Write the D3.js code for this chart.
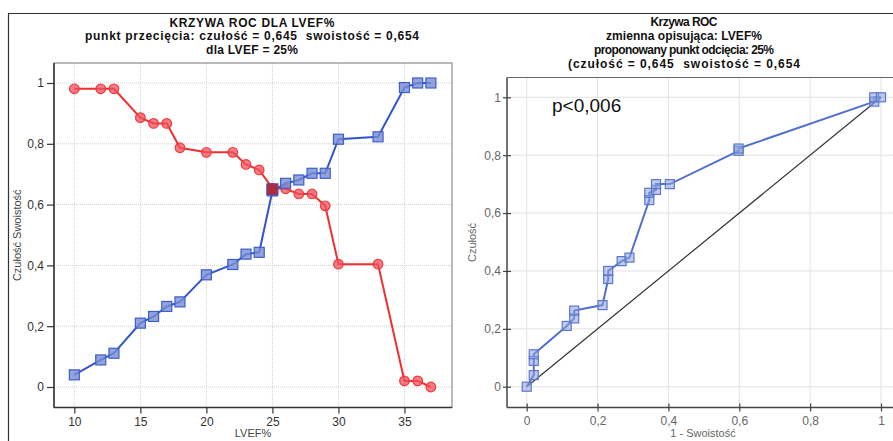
<html>
<head>
<meta charset="utf-8">
<title>Krzywa ROC</title>
<style>
  body { margin: 0; background: #fff; }
  text { font-family: "Liberation Sans", Arial, sans-serif; }
</style>
</head>
<body>
<script src="https://cdn.jsdelivr.net/npm/d3@7"></script>
<script>
    // dane - lewy wykres (czułość i swoistość dla progów LVEF)
    var lvef = [10, 12, 13, 15, 16, 17, 18, 20, 22, 23, 24, 25, 26, 27, 28, 29, 30, 33, 35, 36, 37];
    var czulosc = [0.04, 0.089, 0.111, 0.21, 0.232, 0.265, 0.28, 0.369, 0.403, 0.437, 0.443, 0.645,
                   0.67, 0.681, 0.703, 0.703, 0.815, 0.823, 0.985, 1, 1];
    var swoistosc = [0.981, 0.981, 0.981, 0.886, 0.867, 0.867, 0.787, 0.772, 0.772, 0.732, 0.714, 0.654,
                     0.652, 0.635, 0.635, 0.596, 0.404, 0.404, 0.02, 0.02, 0];
    // dane - prawy wykres (krzywa ROC)
    var jedenMinusSwoistosc = [0, 0.02, 0.02, 0.02, 0.113, 0.134, 0.134, 0.214, 0.23, 0.23, 0.268, 0.29,
                               0.346, 0.346, 0.365, 0.365, 0.404, 0.598, 0.598, 0.981, 0.981, 1];
    var czuloscRoc = [0, 0.04, 0.089, 0.112, 0.21, 0.236, 0.263, 0.282, 0.372, 0.40, 0.434, 0.446,
                      0.645, 0.67, 0.68, 0.70, 0.70, 0.815, 0.823, 0.985, 1, 1];
    var lewyXTicks = [10, 15, 20, 25, 30, 35];
    var yTicks = [0, 0.2, 0.4, 0.6, 0.8, 1];
    var prawyXTicks = [0, 0.2, 0.4, 0.6, 0.8, 1];
    var tytulLewy = ["KRZYWA ROC DLA LVEF%",
                     "punkt przecięcia: czułość = 0,645  swoistość = 0,654",
                     "dla LVEF = 25%"];
    var tytulPrawy = ["Krzywa ROC",
                      "zmienna opisująca: LVEF%",
                      "proponowany punkt odcięcia: 25%",
                      "(czułość = 0,645  swoistość = 0,654"];
    // szerokości linii tytułu (px), jak na oryginale
    var szerLewy = [165, 334, 92];
    var szerPrawy = [67, 156, 180, 232];

    var width = 893, height = 441;
    var svg = d3.select('body').append('svg')
            .attr('width', width).attr('height', height);
    svg.append('rect').attr('width', width).attr('height', height).attr('fill', '#fff');

    var przecinek = function (d) { return String(d).replace('.', ','); };

    // ramka
    svg.append('line').attr('x1', 8).attr('x2', width).attr('y1', 13.5).attr('y2', 13.5)
            .attr('stroke', '#333').attr('stroke-width', 1.2);
    svg.append('line').attr('x1', 8.5).attr('x2', 8.5).attr('y1', 13).attr('y2', height)
            .attr('stroke', '#333').attr('stroke-width', 1.2);

    // ---------- lewy wykres ----------
    var L = {left: 54, top: 63, right: 452, bottom: 407.5};
    var xL = d3.scaleLinear().domain([8.46, 38.6]).range([L.left, L.right]);
    var yL = d3.scaleLinear().domain([0, 1]).range([387, 83]);

    var gL = svg.append('g');
    gL.selectAll('.gx').data(lewyXTicks).enter().append('line')
            .attr('x1', function (d) { return xL(d); }).attr('x2', function (d) { return xL(d); })
            .attr('y1', L.top).attr('y2', L.bottom)
            .attr('stroke', '#d0d0d0').attr('stroke-dasharray', '1,1');
    gL.selectAll('.gy').data(yTicks).enter().append('line')
            .attr('x1', L.left).attr('x2', L.right)
            .attr('y1', function (d) { return yL(d); }).attr('y2', function (d) { return yL(d); })
            .attr('stroke', '#d0d0d0').attr('stroke-dasharray', '1,1');
    gL.append('rect').attr('x', L.left).attr('y', L.top)
            .attr('width', L.right - L.left).attr('height', L.bottom - L.top)
            .attr('fill', 'none').attr('stroke', '#777').attr('stroke-width', 1);

    var axL = gL.append('g').attr('transform', 'translate(' + L.left + ',0)')
            .call(d3.axisLeft(yL).tickValues(yTicks).tickFormat(przecinek).tickSize(7).tickPadding(3));
    axL.select('.domain').attr('d', 'M0,' + L.top + 'V' + L.bottom).attr('stroke', '#333').attr('stroke-width', 1.5);
    var axLx = gL.append('g').attr('transform', 'translate(0,' + L.bottom + ')')
            .call(d3.axisBottom(xL).tickValues(lewyXTicks).tickSize(6).tickPadding(4));
    axLx.select('.domain').attr('d', 'M' + L.left + ',0H' + L.right).attr('stroke', '#333').attr('stroke-width', 1.5);
    gL.selectAll('.tick text').attr('font-size', 12).attr('fill', '#333')
            .attr('font-family', '"Liberation Sans", Arial, sans-serif');
    gL.selectAll('.tick line').attr('stroke', '#333').attr('stroke-width', 1.2);

    gL.append('text').attr('transform', 'translate(21,' + ((L.top + L.bottom) / 2) + ') rotate(-90)')
            .attr('text-anchor', 'middle').attr('font-size', 11).attr('fill', '#444')
            .text('Czułość Swoistość');
    gL.append('text').attr('x', (L.left + L.right) / 2).attr('y', 437)
            .attr('text-anchor', 'middle').attr('font-size', 11).attr('fill', '#444')
            .text('LVEF%');

    gL.selectAll('.tl').data(tytulLewy).enter().append('text')
            .attr('x', 252).attr('y', function (d, i) { return 26.5 + i * 13.5; })
            .attr('text-anchor', 'middle').attr('font-size', 12).attr('font-weight', 'bold')
            .attr('textLength', function (d, i) { return szerLewy[i]; })
            .style('white-space', 'pre')
            .attr('fill', '#111').text(function (d) { return d; });

    var liniaCz = d3.line().x(function (d, i) { return xL(lvef[i]); }).y(function (d) { return yL(d); });

    // swoistość (czerwona)
    gL.append('path').attr('d', liniaCz(swoistosc)).attr('fill', 'none')
            .attr('stroke', '#f03030').attr('stroke-width', 2);
    gL.selectAll('.sw').data(swoistosc).enter().append('circle')
            .attr('cx', function (d, i) { return xL(lvef[i]); }).attr('cy', function (d) { return yL(d); })
            .attr('r', 4.8).attr('fill', 'rgba(240,80,95,0.75)').attr('stroke', '#f03a3a').attr('stroke-width', 1.2);

    // czułość (niebieska)
    gL.append('path').attr('d', liniaCz(czulosc)).attr('fill', 'none')
            .attr('stroke', '#3355cc').attr('stroke-width', 2);
    gL.selectAll('.cz').data(czulosc).enter().append('rect')
            .attr('x', function (d, i) { return xL(lvef[i]) - 5; }).attr('y', function (d) { return yL(d) - 5; })
            .attr('width', 10).attr('height', 10)
            .attr('fill', 'rgba(120,140,210,0.8)').attr('stroke', '#3d5fcc').attr('stroke-width', 1.2);
    // punkt przecięcia
    gL.append('rect').attr('x', xL(25) - 5.5).attr('y', yL(0.65) - 5.5).attr('width', 11).attr('height', 11)
            .attr('fill', '#b02a3a').attr('stroke', '#5a4aa0').attr('stroke-width', 1.2);

    // ---------- prawy wykres ----------
    var R = {left: 507, top: 77.5, right: 900, bottom: 407.5};
    var xR = d3.scaleLinear().domain([0, 1]).range([526.7, 881]);
    var yR = d3.scaleLinear().domain([0, 1]).range([386.7, 97.3]);

    var gR = svg.append('g');
    gR.selectAll('.gx').data(prawyXTicks).enter().append('line')
            .attr('x1', function (d) { return xR(d); }).attr('x2', function (d) { return xR(d); })
            .attr('y1', R.top).attr('y2', R.bottom)
            .attr('stroke', '#e2e2e2');
    gR.selectAll('.gy').data(yTicks).enter().append('line')
            .attr('x1', R.left).attr('x2', R.right)
            .attr('y1', function (d) { return yR(d); }).attr('y2', function (d) { return yR(d); })
            .attr('stroke', '#e2e2e2');
    gR.append('line').attr('x1', R.left).attr('x2', R.right).attr('y1', R.top).attr('y2', R.top)
            .attr('stroke', '#666');

    var axR = gR.append('g').attr('transform', 'translate(' + R.left + ',0)')
            .call(d3.axisLeft(yR).tickValues(yTicks).tickFormat(przecinek).tickSizeInner(4).tickSizeOuter(0).tickPadding(2));
    axR.select('.domain').attr('d', 'M0,' + R.top + 'V' + R.bottom).attr('stroke', '#444').attr('stroke-width', 1.5);
    axR.selectAll('.tick line').attr('x2', 4).attr('x1', -4);
    var axRx = gR.append('g').attr('transform', 'translate(0,' + R.bottom + ')')
            .call(d3.axisBottom(xR).tickValues(prawyXTicks).tickFormat(przecinek).tickSizeInner(4).tickSizeOuter(0).tickPadding(5));
    axRx.select('.domain').attr('d', 'M' + R.left + ',0H' + R.right).attr('stroke', '#444').attr('stroke-width', 1.5);
    axRx.selectAll('.tick line').attr('y1', -4).attr('y2', 4);
    gR.selectAll('.tick text').attr('font-size', 12).attr('fill', '#666')
            .attr('font-family', '"Open Sans", "DejaVu Sans", sans-serif');
    gR.selectAll('.tick line').attr('stroke', '#444').attr('stroke-width', 1.2);

    gR.append('text').attr('transform', 'translate(476,' + ((R.top + R.bottom) / 2) + ') rotate(-90)')
            .attr('text-anchor', 'middle').attr('font-size', 11).attr('fill', '#666')
            .attr('font-family', '"Open Sans", sans-serif')
            .text('Czułość');
    gR.append('text').attr('x', 703).attr('y', 437)
            .attr('text-anchor', 'middle').attr('font-size', 11).attr('fill', '#666')
            .attr('font-family', '"Open Sans", sans-serif')
            .text('1 - Swoistość');

    gR.selectAll('.tr').data(tytulPrawy).enter().append('text')
            .attr('x', 684).attr('y', function (d, i) { return 25.5 + i * 14; })
            .attr('text-anchor', 'middle').attr('font-size', 12).attr('font-weight', 'bold')
            .attr('textLength', function (d, i) { return szerPrawy[i]; })
            .style('white-space', 'pre')
            .attr('fill', '#111').text(function (d) { return d; });

    gR.append('text').attr('x', 552).attr('y', 111.5).attr('font-size', 19)
            .attr('font-family', '"Open Sans", sans-serif').attr('fill', '#111')
            .text('p<0,006');

    // przekątna
    gR.append('line').attr('x1', xR(0)).attr('y1', yR(0)).attr('x2', xR(1)).attr('y2', yR(1))
            .attr('stroke', '#333').attr('stroke-width', 1.2);

    var liniaRoc = d3.line().x(function (d) { return xR(d); }).y(function (d, i) { return yR(czuloscRoc[i]); });
    gR.append('path').attr('d', liniaRoc(jedenMinusSwoistosc)).attr('fill', 'none')
            .attr('stroke', '#5070cc').attr('stroke-width', 2);
    gR.selectAll('.pt').data(jedenMinusSwoistosc).enter().append('rect')
            .attr('x', function (d) { return xR(d) - 4.5; })
            .attr('y', function (d, i) { return yR(czuloscRoc[i]) - 4.5; })
            .attr('width', 9).attr('height', 9)
            .attr('fill', 'rgba(140,160,220,0.55)').attr('stroke', '#5a78d0').attr('stroke-width', 1.2);
</script>
</body>
</html>
